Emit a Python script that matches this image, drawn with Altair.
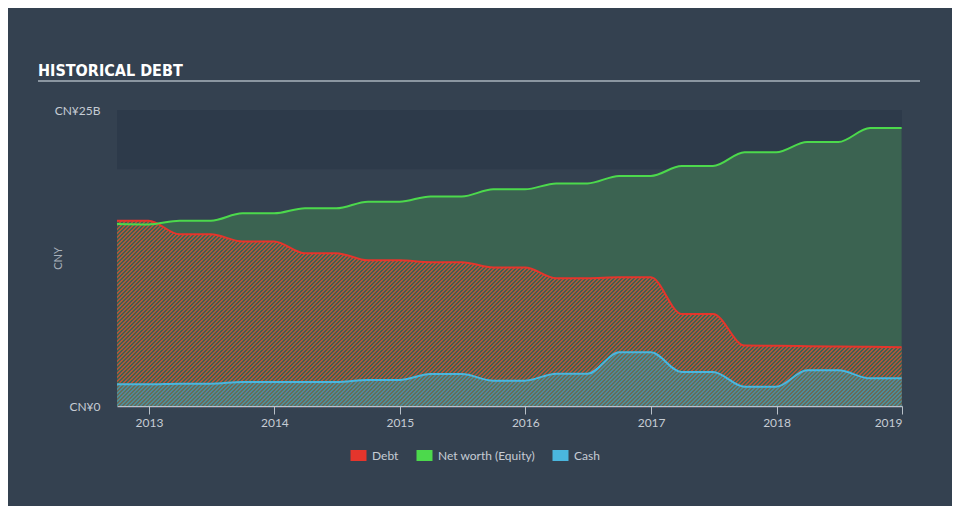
import altair as alt
import pandas as pd

# ---------------- data (CNY billions, quarter ends) ----------------
dates = [
    "2012-09-30", "2012-12-31", "2013-03-31", "2013-06-30", "2013-09-30", "2013-12-31",
    "2014-03-31", "2014-06-30", "2014-09-30", "2014-12-31", "2015-03-31", "2015-06-30",
    "2015-09-30", "2015-12-31", "2016-03-31", "2016-06-30", "2016-09-30", "2016-12-31",
    "2017-03-31", "2017-06-30", "2017-09-30", "2017-12-31", "2018-03-31", "2018-06-30",
    "2018-09-30", "2018-12-31",
]
debt = [15.65, 15.65, 14.5, 14.5, 13.9, 13.9, 12.9, 12.9, 12.3, 12.3, 12.15, 12.15,
        11.7, 11.7, 10.8, 10.8, 10.87, 10.87, 7.77, 7.77, 5.1, 5.08, 5.05, 5.03, 5.0, 4.97]
equity = [15.37, 15.33, 15.65, 15.65, 16.27, 16.27, 16.7, 16.7, 17.26, 17.26, 17.7, 17.7,
          18.3, 18.3, 18.8, 18.8, 19.43, 19.43, 20.27, 20.27, 21.43, 21.43, 22.3, 22.3, 23.48, 23.48]
cash = [1.83, 1.83, 1.88, 1.88, 2.03, 2.03, 2.03, 2.03, 2.2, 2.2, 2.7, 2.7,
        2.14, 2.14, 2.73, 2.73, 4.53, 4.53, 2.87, 2.87, 1.63, 1.63, 3.01, 3.01, 2.34, 2.34]

series_names = ["Debt", "Net worth (Equity)", "Cash"]
line_colors = ["#e5352c", "#4cd94c", "#4ab6de"]
x_tick_years = [2013, 2014, 2015, 2016, 2017, 2018, 2019]
y_ticks = [0, 25]
x_domain = ["2012-09-30", "2019-01-01"]
y_domain = [0, 25]
title_text = "HISTORICAL DEBT"

df = pd.DataFrame({"date": dates, "Debt": debt, "Net worth (Equity)": equity, "Cash": cash})

# ---------------- styling ----------------
W, H = 785, 296
BG = "#344150"
BAND = "#2d3a4a"
EQ_FILL = "#3b6351"
LABEL = "#c6ccd4"
FONT = "Lato"


def ms(s):
    return int(pd.Timestamp(s).value // 10**6)


def stripes(c1, c2, top_value, pitch=4.0):
    h = H * top_value / y_domain[1]
    s = W + h
    n2 = W * W + h * h
    x2 = W * s / n2
    y2 = h * s / n2
    period = pitch / s
    stops = []
    k = 0
    while k * period < 1:
        a = round(k * period, 6)
        b = round(min(k * period + period / 2, 1), 6)
        c = round(min(k * period + period, 1), 6)
        stops += [
            alt.GradientStop(offset=a, color=c1),
            alt.GradientStop(offset=b, color=c1),
            alt.GradientStop(offset=b, color=c2),
            alt.GradientStop(offset=c, color=c2),
        ]
        k += 1
    return alt.LinearGradient(gradient="linear", stops=stops, x1=0, y1=0, x2=x2, y2=y2)


x_enc = alt.X(
    "date:T",
    scale=alt.Scale(type="utc", domain=[ms(x_domain[0]), ms(x_domain[1])]),
    axis=alt.Axis(
        values=[ms(f"{y}-01-01") for y in x_tick_years],
        labelExpr="utcFormat(datum.value, '%Y')",
        title=None, grid=False, domainColor="#b8c0c8", tickColor="#b8c0c8",
        tickSize=8, domainWidth=1.5, labelColor=LABEL, labelFontSize=12,
        labelFont=FONT, labelPadding=3,
    ),
)
y_scale = alt.Scale(domain=y_domain, nice=False)
y_axis = alt.Axis(
    values=y_ticks,
    labelExpr="datum.value == 0 ? 'CN¥0' : 'CN¥' + datum.value + 'B'",
    domain=False, ticks=False, grid=False, labelPadding=17,
    labelColor=LABEL, labelFontSize=12, labelFont=FONT,
    title="CNY", titleColor="#a8b0ba", titleFontSize=11, titleFont=FONT,
    titleFontWeight="normal", titleAngle=270, titleBaseline="bottom", titleAlign="center",
    titleX=-54, titleY=148,
)

one = alt.Data(values=[{"t": title_text}])

band = alt.Chart(one).mark_rect(color=BAND).encode(
    x=alt.value(0), x2=alt.value(W), y=alt.datum(20), y2=alt.datum(25)
)

eq_area = alt.Chart(df).mark_area(color=EQ_FILL, interpolate="monotone").encode(
    x=x_enc, y=alt.Y("Net worth (Equity):Q", scale=y_scale, axis=y_axis)
)
debt_area = alt.Chart(df).mark_area(
    color=stripes("#ae553b", "#3d6352", max(debt)), interpolate="monotone"
).encode(x=x_enc, y=alt.Y("Debt:Q", scale=y_scale, axis=y_axis))
cash_area = alt.Chart(df).mark_area(
    color=stripes("#4b8f98", "#6c6858", max(cash)), interpolate="monotone"
).encode(x=x_enc, y=alt.Y("Cash:Q", scale=y_scale, axis=y_axis))

lines = alt.Chart(df).transform_fold(series_names, as_=["series", "value"]).mark_line(
    interpolate="monotone", strokeWidth=2
).encode(
    x=x_enc,
    y=alt.Y("value:Q", scale=y_scale, axis=y_axis),
    stroke=alt.Stroke(
        "series:N",
        scale=alt.Scale(domain=series_names, range=line_colors),
        legend=alt.Legend(
            orient="none", legendX=228, legendY=332, direction="horizontal", title=None,
            symbolType="M0,-1V1", symbolSize=121, symbolStrokeWidth=16,
            labelColor=LABEL, labelFontSize=12, labelFont=FONT,
            columnPadding=-7, labelOffset=0,
        ),
    ),
)

rule = alt.Chart(one).mark_rule(color="#a9b3bd", strokeWidth=1.5).encode(
    x=alt.value(-79), x2=alt.value(803), y=alt.value(-29)
)

title = alt.Chart(one).mark_text(
    align="left", baseline="alphabetic", color="#ffffff", fontSize=16, fontWeight="bold",
    font="'Liberation Sans Narrow', 'DejaVu Sans Condensed', sans-serif",
).encode(x=alt.value(-79), y=alt.value(-34), text="t:N")

chart = alt.layer(band, eq_area, debt_area, cash_area, lines, rule, title).properties(
    width=W, height=H,
    autosize=alt.AutoSizeParams(type="none"),
    padding={"left": 109, "top": 102, "right": 50, "bottom": 100},
).configure(background=BG).configure_view(stroke=None)

chart.save("out.html", embed_options={"renderer": "svg", "actions": False})
